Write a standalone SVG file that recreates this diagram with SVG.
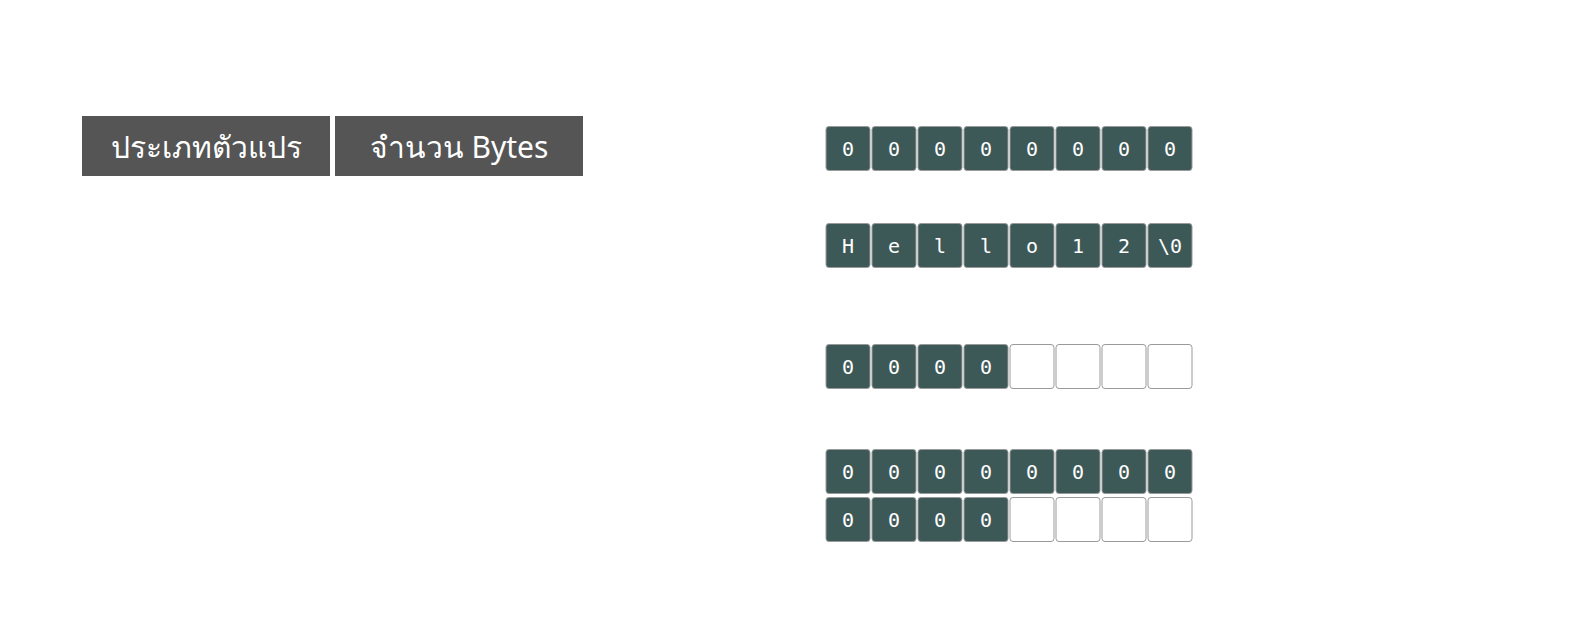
<svg xmlns="http://www.w3.org/2000/svg" width="1569" height="626" viewBox="0 0 1569 626">
<style>
.h{fill:#555555}
.ht{fill:#ffffff;font-family:"Noto Sans","DejaVu Sans",sans-serif;font-size:30px;text-anchor:middle;dominant-baseline:central}
.c{fill:#3d5957;stroke:#9a9a9a;stroke-width:1}
.e{fill:#ffffff;stroke:#9a9a9a;stroke-width:1}
.t{fill:#ffffff;font-family:"DejaVu Sans Mono","Liberation Mono",monospace;font-size:20px;text-anchor:middle;dominant-baseline:central}
</style>
<rect width="1569" height="626" fill="#ffffff"/>
<g id="header1"><rect class="h" x="82" y="116" width="248" height="60"/><text class="ht" x="206" y="146">ประเภทตัวแปร</text></g>
<g id="header2"><rect class="h" x="335" y="116" width="248" height="60"/><text class="ht" x="459" y="146">จำนวน Bytes</text></g>
<g id="row1">
<rect class="c" x="826" y="126.5" width="44" height="44" rx="3"/><text class="t" x="848" y="149">0</text>
<rect class="c" x="872" y="126.5" width="44" height="44" rx="3"/><text class="t" x="894" y="149">0</text>
<rect class="c" x="918" y="126.5" width="44" height="44" rx="3"/><text class="t" x="940" y="149">0</text>
<rect class="c" x="964" y="126.5" width="44" height="44" rx="3"/><text class="t" x="986" y="149">0</text>
<rect class="c" x="1010" y="126.5" width="44" height="44" rx="3"/><text class="t" x="1032" y="149">0</text>
<rect class="c" x="1056" y="126.5" width="44" height="44" rx="3"/><text class="t" x="1078" y="149">0</text>
<rect class="c" x="1102" y="126.5" width="44" height="44" rx="3"/><text class="t" x="1124" y="149">0</text>
<rect class="c" x="1148" y="126.5" width="44" height="44" rx="3"/><text class="t" x="1170" y="149">0</text>
</g>
<g id="row2">
<rect class="c" x="826" y="223.5" width="44" height="44" rx="3"/><text class="t" x="848" y="246">H</text>
<rect class="c" x="872" y="223.5" width="44" height="44" rx="3"/><text class="t" x="894" y="246">e</text>
<rect class="c" x="918" y="223.5" width="44" height="44" rx="3"/><text class="t" x="940" y="246">l</text>
<rect class="c" x="964" y="223.5" width="44" height="44" rx="3"/><text class="t" x="986" y="246">l</text>
<rect class="c" x="1010" y="223.5" width="44" height="44" rx="3"/><text class="t" x="1032" y="246">o</text>
<rect class="c" x="1056" y="223.5" width="44" height="44" rx="3"/><text class="t" x="1078" y="246">1</text>
<rect class="c" x="1102" y="223.5" width="44" height="44" rx="3"/><text class="t" x="1124" y="246">2</text>
<rect class="c" x="1148" y="223.5" width="44" height="44" rx="3"/><text class="t" x="1170" y="246">\0</text>
</g>
<g id="row3">
<rect class="c" x="826" y="344.5" width="44" height="44" rx="3"/><text class="t" x="848" y="367">0</text>
<rect class="c" x="872" y="344.5" width="44" height="44" rx="3"/><text class="t" x="894" y="367">0</text>
<rect class="c" x="918" y="344.5" width="44" height="44" rx="3"/><text class="t" x="940" y="367">0</text>
<rect class="c" x="964" y="344.5" width="44" height="44" rx="3"/><text class="t" x="986" y="367">0</text>
<rect class="e" x="1010" y="344.5" width="44" height="44" rx="3"/>
<rect class="e" x="1056" y="344.5" width="44" height="44" rx="3"/>
<rect class="e" x="1102" y="344.5" width="44" height="44" rx="3"/>
<rect class="e" x="1148" y="344.5" width="44" height="44" rx="3"/>
</g>
<g id="row4">
<rect class="c" x="826" y="449.5" width="44" height="44" rx="3"/><text class="t" x="848" y="472">0</text>
<rect class="c" x="872" y="449.5" width="44" height="44" rx="3"/><text class="t" x="894" y="472">0</text>
<rect class="c" x="918" y="449.5" width="44" height="44" rx="3"/><text class="t" x="940" y="472">0</text>
<rect class="c" x="964" y="449.5" width="44" height="44" rx="3"/><text class="t" x="986" y="472">0</text>
<rect class="c" x="1010" y="449.5" width="44" height="44" rx="3"/><text class="t" x="1032" y="472">0</text>
<rect class="c" x="1056" y="449.5" width="44" height="44" rx="3"/><text class="t" x="1078" y="472">0</text>
<rect class="c" x="1102" y="449.5" width="44" height="44" rx="3"/><text class="t" x="1124" y="472">0</text>
<rect class="c" x="1148" y="449.5" width="44" height="44" rx="3"/><text class="t" x="1170" y="472">0</text>
</g>
<g id="row5">
<rect class="c" x="826" y="497.5" width="44" height="44" rx="3"/><text class="t" x="848" y="520">0</text>
<rect class="c" x="872" y="497.5" width="44" height="44" rx="3"/><text class="t" x="894" y="520">0</text>
<rect class="c" x="918" y="497.5" width="44" height="44" rx="3"/><text class="t" x="940" y="520">0</text>
<rect class="c" x="964" y="497.5" width="44" height="44" rx="3"/><text class="t" x="986" y="520">0</text>
<rect class="e" x="1010" y="497.5" width="44" height="44" rx="3"/>
<rect class="e" x="1056" y="497.5" width="44" height="44" rx="3"/>
<rect class="e" x="1102" y="497.5" width="44" height="44" rx="3"/>
<rect class="e" x="1148" y="497.5" width="44" height="44" rx="3"/>
</g>
<g id="connectors"></g>
</svg>
